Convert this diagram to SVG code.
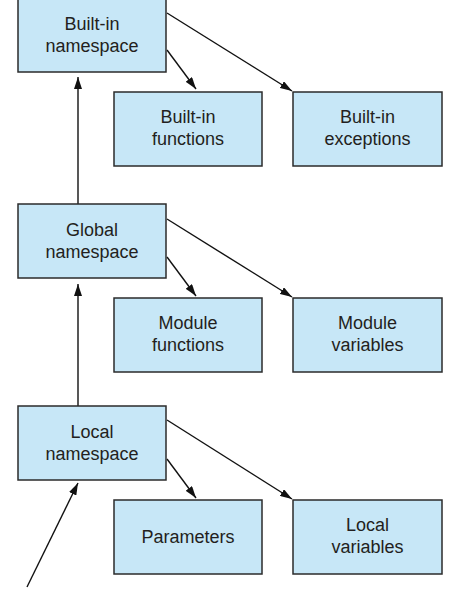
<svg xmlns="http://www.w3.org/2000/svg" width="449" height="589" viewBox="0 0 449 589">
<style>
.box{fill:#c7e7f7;stroke:#2b2b2b;stroke-width:1.5}
.t{font-family:"Liberation Sans",Arial,sans-serif;font-size:18px;fill:#231f20;text-anchor:middle}
.c{stroke:#111;stroke-width:1.4;fill:none;marker-end:url(#ah)}
</style>
<defs>
<marker id="ah" viewBox="0 0 12 8" refX="12" refY="4" markerWidth="12" markerHeight="8" markerUnits="userSpaceOnUse" orient="auto">
<path d="M0,0 L12,4 L0,8 Z" fill="#111"/>
</marker>
</defs>
<rect width="449" height="589" fill="#fff"/>
<g id="connectors">
<line class="c" x1="167" y1="50" x2="196" y2="89"/>
<line class="c" x1="167" y1="13" x2="292" y2="91"/>
<line class="c" x1="78" y1="204" x2="78" y2="77"/>
<line class="c" x1="167" y1="257" x2="196" y2="296"/>
<line class="c" x1="167" y1="219" x2="292" y2="297"/>
<line class="c" x1="78" y1="406" x2="78" y2="284"/>
<line class="c" x1="167" y1="459" x2="196" y2="498"/>
<line class="c" x1="167" y1="420" x2="292" y2="499"/>
<line class="c" x1="27" y1="587" x2="78" y2="483"/>
</g>
<g id="builtin-namespace">
<rect class="box" x="18" y="-3" width="148" height="75"/>
<text class="t" x="92" y="30">Built-in</text>
<text class="t" x="92" y="52">namespace</text>
</g>
<g id="builtin-functions">
<rect class="box" x="114" y="92" width="148" height="74"/>
<text class="t" x="188" y="123">Built-in</text>
<text class="t" x="188" y="145">functions</text>
</g>
<g id="builtin-exceptions">
<rect class="box" x="293" y="92" width="149" height="74"/>
<text class="t" x="367.5" y="123">Built-in</text>
<text class="t" x="367.5" y="145">exceptions</text>
</g>
<g id="global-namespace">
<rect class="box" x="18" y="204" width="148" height="74"/>
<text class="t" x="92" y="235.5">Global</text>
<text class="t" x="92" y="257.5">namespace</text>
</g>
<g id="module-functions">
<rect class="box" x="114" y="298" width="148" height="74"/>
<text class="t" x="188" y="329">Module</text>
<text class="t" x="188" y="351">functions</text>
</g>
<g id="module-variables">
<rect class="box" x="293" y="298" width="149" height="74"/>
<text class="t" x="367.5" y="329">Module</text>
<text class="t" x="367.5" y="351">variables</text>
</g>
<g id="local-namespace">
<rect class="box" x="18" y="406" width="148" height="74"/>
<text class="t" x="92" y="437.5">Local</text>
<text class="t" x="92" y="459.5">namespace</text>
</g>
<g id="parameters">
<rect class="box" x="114" y="500" width="148" height="74"/>
<text class="t" x="188" y="543">Parameters</text>
</g>
<g id="local-variables">
<rect class="box" x="293" y="500" width="149" height="74"/>
<text class="t" x="367.5" y="531">Local</text>
<text class="t" x="367.5" y="553">variables</text>
</g>
</svg>
